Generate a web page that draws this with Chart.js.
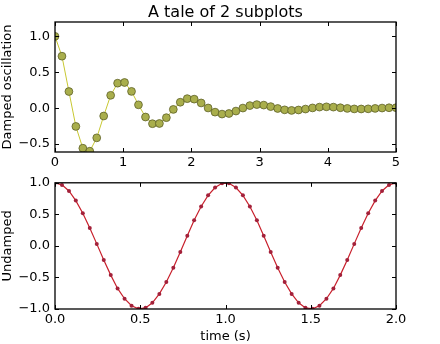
<!DOCTYPE html>
<html>
<head>
<meta charset="utf-8">
<script src="https://cdn.jsdelivr.net/npm/chart.js@4.4.0/dist/chart.umd.min.js"></script>
<style>
html,body{margin:0;padding:0;background:#fff;}
#wrap{position:relative;width:440px;height:344px;}
#c1{position:absolute;left:0;top:0;}
#c2{position:absolute;left:0;top:170px;}
</style>
</head>
<body>
<div id="wrap">
<canvas id="c1" width="440" height="170"></canvas>
<canvas id="c2" width="440" height="174"></canvas>
</div>
<script>
// ---- data ----
const dampedX = [0.000,0.102,0.204,0.306,0.408,0.510,0.612,0.714,0.816,0.918,
  1.020,1.122,1.224,1.327,1.429,1.531,1.633,1.735,1.837,1.939,
  2.041,2.143,2.245,2.347,2.449,2.551,2.653,2.755,2.857,2.959,
  3.061,3.163,3.265,3.367,3.469,3.571,3.673,3.776,3.878,3.980,
  4.082,4.184,4.286,4.388,4.490,4.592,4.694,4.796,4.898,5.000];
const dampedY = [1.000,0.724,0.232,-0.254,-0.557,-0.599,-0.413,-0.109,0.179,0.348,
  0.358,0.234,0.047,-0.123,-0.216,-0.213,-0.132,-0.017,0.083,0.133,
  0.126,0.073,0.003,-0.055,-0.082,-0.074,-0.040,0.002,0.036,0.050,
  0.043,0.022,-0.004,-0.023,-0.031,-0.025,-0.012,0.004,0.015,0.019,
  0.015,0.006,-0.003,-0.010,-0.011,-0.009,-0.003,0.002,0.006,0.007];
const undampedX = [0.000,0.041,0.082,0.122,0.163,0.204,0.245,0.286,0.327,0.367,
  0.408,0.449,0.490,0.531,0.571,0.612,0.653,0.694,0.735,0.776,
  0.816,0.857,0.898,0.939,0.980,1.020,1.061,1.102,1.143,1.184,
  1.224,1.265,1.306,1.347,1.388,1.429,1.469,1.510,1.551,1.592,
  1.633,1.673,1.714,1.755,1.796,1.837,1.878,1.918,1.959,2.000];
const undampedY = [1.000,0.967,0.871,0.718,0.518,0.285,0.032,-0.223,-0.463,-0.674,
  -0.837,-0.949,-0.998,-0.982,-0.901,-0.761,-0.572,-0.345,-0.096,0.160,
  0.405,0.624,0.801,0.925,0.992,0.992,0.925,0.801,0.624,0.405,
  0.160,-0.096,-0.345,-0.572,-0.761,-0.901,-0.982,-0.998,-0.949,-0.837,
  -0.674,-0.463,-0.223,0.032,0.285,0.518,0.718,0.871,0.967,1.000];
const topXTicks = [0,1,2,3,4,5];
const topYTicks = [-0.5,0.0,0.5,1.0];
const botXTicks = [0.0,0.5,1.0,1.5,2.0];
const botYTicks = [-1.0,-0.5,0.0,0.5,1.0];
const titleText = 'A tale of 2 subplots';
const topYLabel = 'Damped oscillation';
const botYLabel = 'Undamped';
const botXLabel = 'time (s)';

const FONT = "'DejaVu Sans', sans-serif";
const fmt = (d) => (v) => {
  const s = Number(v).toFixed(d);
  return s.startsWith('-') ? '\u2212' + s.slice(1) : s;
};

// frame + inward ticks on all four sides
const framePlugin = {
  id: 'frame',
  afterDatasetsDraw(chart) {
    const {ctx, chartArea: a, scales} = chart;
    ctx.save();
    ctx.strokeStyle = '#000';
    ctx.lineWidth = 1;
    const L = 4;
    ctx.beginPath();
    scales.x.ticks.forEach(t => {
      const px = Math.round(scales.x.getPixelForValue(t.value)) + 0.5;
      ctx.moveTo(px, a.bottom); ctx.lineTo(px, a.bottom - L);
      ctx.moveTo(px, a.top); ctx.lineTo(px, a.top + L);
    });
    scales.y.ticks.forEach(t => {
      const py = Math.round(scales.y.getPixelForValue(t.value)) + 0.5;
      ctx.moveTo(a.left, py); ctx.lineTo(a.left + L, py);
      ctx.moveTo(a.right, py); ctx.lineTo(a.right - L, py);
    });
    ctx.stroke();
    ctx.lineWidth = 1.3;
    ctx.strokeRect(a.left, a.top, a.right - a.left, a.bottom - a.top);
    const t = chart.options.plugins.axTitle;
    if (t && t.text) {
      ctx.fillStyle = '#000';
      ctx.font = "16px " + FONT;
      ctx.textAlign = 'center';
      ctx.textBaseline = 'alphabetic';
      ctx.fillText(t.text, (a.left + a.right) / 2, a.top - 5);
    }
    ctx.restore();
  }
};

function makeScales(xmin, xmax, xticks, xdec, ymin, ymax, yticks, ydec, xTitle, yTitle, xHeight) {
  return {
    x: {
      type: 'linear', min: xmin, max: xmax,
      afterBuildTicks: s => { s.ticks = xticks.map(v => ({value: v})); },
      afterFit: s => { s.height = xHeight; },
      grid: {display: false, drawTicks: false},
      border: {display: false},
      ticks: {color: '#000', font: {family: FONT, size: 13}, padding: 3, maxRotation: 0, autoSkip: false, callback: fmt(xdec)},
      title: xTitle ? {display: true, text: xTitle, color: '#000', font: {family: FONT, size: 13}, padding: {top: 0, bottom: 0}} : {display: false}
    },
    y: {
      type: 'linear', min: ymin, max: ymax,
      afterBuildTicks: s => { s.ticks = yticks.map(v => ({value: v})); },
      afterFit: s => { s.width = 55; },
      grid: {display: false, drawTicks: false},
      border: {display: false},
      ticks: {color: '#000', font: {family: FONT, size: 13}, padding: 5, autoSkip: false, callback: fmt(ydec)},
      title: {display: true, text: yTitle, color: '#000', font: {family: FONT, size: 13}, padding: {top: 0, bottom: 0}}
    }
  };
}

new Chart(document.getElementById('c1'), {
  type: 'line',
  data: {
    datasets: [{
      data: dampedX.map((x, i) => ({x, y: dampedY[i]})),
      borderColor: '#c8c832',
      borderWidth: 1,
      backgroundColor: '#a9ae4c',
      pointBackgroundColor: '#a9ae4c',
      pointBorderColor: '#5e6128',
      pointBorderWidth: 0.8,
      pointRadius: 3.9,
      tension: 0,
      clip: 0
    }]
  },
  options: {
    responsive: false, animation: false, devicePixelRatio: 1,
    layout: {padding: {left: 0, right: 44, top: 22, bottom: 0}},
    plugins: {
      legend: {display: false}, tooltip: {enabled: false},
      title: {display: false},
      axTitle: {text: titleText}
    },
    scales: makeScales(0, 5, topXTicks, 0, -0.61, 1.2, topYTicks, 1, null, topYLabel, 18)
  },
  plugins: [framePlugin]
});

new Chart(document.getElementById('c2'), {
  type: 'line',
  data: {
    datasets: [{
      data: undampedX.map((x, i) => ({x, y: undampedY[i]})),
      borderColor: '#c8202c',
      borderWidth: 1.2,
      backgroundColor: '#a3213a',
      pointBackgroundColor: '#a3213a',
      pointBorderColor: '#a3213a',
      pointBorderWidth: 0,
      pointRadius: 2,
      tension: 0,
      clip: 0
    }]
  },
  options: {
    responsive: false, animation: false, devicePixelRatio: 1,
    layout: {padding: {left: 0, right: 44, top: 8, bottom: 0}},
    plugins: {legend: {display: false}, tooltip: {enabled: false}, title: {display: false}},
    scales: makeScales(0, 2, botXTicks, 1, -1, 1, botYTicks, 1, botXLabel, botYLabel, 35)
  },
  plugins: [framePlugin]
});
</script>
</body>
</html>
